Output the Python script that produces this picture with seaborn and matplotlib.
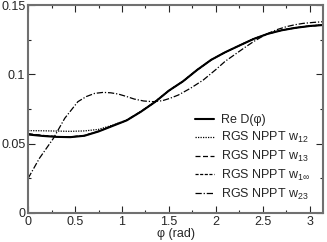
import matplotlib
matplotlib.use('Agg')
import matplotlib.pyplot as plt
import seaborn as sns
import pandas as pd
from matplotlib.ticker import MultipleLocator

# valores
phi_d = [0.0, 0.15, 0.3, 0.45, 0.6, 0.75, 0.9, 1.05, 1.2, 1.35, 1.5, 1.65, 1.8,
         1.95, 2.1, 2.25, 2.4, 2.55, 2.7, 2.85, 3.0, 3.14]
re_d = [0.0566, 0.0556, 0.0549, 0.0547, 0.0557, 0.0588, 0.0628, 0.0668, 0.0730, 0.0800,
        0.0883, 0.0950, 0.1032, 0.1105, 0.1160, 0.1208, 0.1255, 0.1292, 0.1318, 0.1336,
        0.1349, 0.1356]
w12 = [0.0594, 0.0593, 0.0591, 0.0589, 0.0592, 0.0603, 0.0634, 0.0671, 0.0732, 0.0802,
       0.0884, 0.0951, 0.1033, 0.1106, 0.1161, 0.1209, 0.1256, 0.1293, 0.1319, 0.1337,
       0.1350, 0.1357]
w13 = [0.0572, 0.0560, 0.0551, 0.0549, 0.0559, 0.0590, 0.0630, 0.0669, 0.0731, 0.0801,
       0.0883, 0.0950, 0.1032, 0.1105, 0.1160, 0.1208, 0.1255, 0.1292, 0.1318, 0.1336,
       0.1349, 0.1356]
w1inf = [0.0569, 0.0558, 0.0550, 0.0548, 0.0558, 0.0589, 0.0629, 0.0668, 0.0730, 0.0800,
         0.0883, 0.0950, 0.1032, 0.1105, 0.1160, 0.1208, 0.1255, 0.1292, 0.1318, 0.1336,
         0.1349, 0.1356]
phi_23 = [0.0, 0.12, 0.27, 0.39, 0.53, 0.62, 0.71, 0.80, 0.88, 0.96, 1.05, 1.13, 1.23,
          1.33, 1.43, 1.51, 1.6, 1.73, 1.865, 2.0, 2.1, 2.22, 2.31, 2.4, 2.48, 2.57,
          2.66, 2.75, 2.84, 2.93, 3.04, 3.14]
w23 = [0.0250, 0.0394, 0.0539, 0.0683, 0.0803, 0.0840, 0.0863, 0.0870, 0.0867, 0.0858,
       0.0840, 0.0822, 0.0808, 0.0803, 0.0810, 0.0827, 0.0851, 0.0900, 0.0959, 0.1035,
       0.1095, 0.1152, 0.1195, 0.1236, 0.1268, 0.1300, 0.1325, 0.1344, 0.1358, 0.1368,
       0.1375, 0.1380]

labels = ['Re D(φ)', 'RGS NPPT w$_{12}$', 'RGS NPPT w$_{13}$',
          'RGS NPPT w$_{1\\infty}$', 'RGS NPPT w$_{23}$']
xs = [phi_d, phi_d, phi_d, phi_d, phi_23]
series = [re_d, w12, w13, w1inf, w23]
estilos = [('-', 1.5), ((0, (1, 1)), 0.9), ((0, (4, 2)), 0.9),
           ((0, (2.5, 1.2)), 0.9), ((0, (5, 1.5, 1, 1.5)), 0.9)]

sns.set_style('ticks')
plt.rcParams['font.family'] = ['Liberation Sans', 'DejaVu Sans']
plt.rcParams['mathtext.default'] = 'regular'

fig = plt.figure(figsize=(3.27, 2.42), dpi=100)
ax = fig.add_axes([0.086, 0.12, 0.902, 0.859])

for x, y, lab, (ls, lw) in zip(xs, series, labels, estilos):
    df = pd.DataFrame({'phi': x, 'val': y})
    sns.lineplot(data=df, x='phi', y='val', ax=ax, color='black', lw=lw,
                 linestyle=ls, label=lab)

ax.set_xlim(0, 3.1416)
ax.set_ylim(0, 0.15)
ax.set_xticks([0, 0.5, 1, 1.5, 2, 2.5, 3])
ax.set_xticklabels(['0', '0.5', '1', '1.5', '2', '2.5', '3'])
ax.set_yticks([0, 0.05, 0.1, 0.15])
ax.set_yticklabels(['0', '0.05', '0.1', '0.15'])
ax.xaxis.set_minor_locator(MultipleLocator(0.25))
ax.yaxis.set_minor_locator(MultipleLocator(0.025))
ax.tick_params(which='both', direction='in', top=True, right=True, labelsize=9, pad=2)
ax.tick_params(which='major', length=5, width=0.8)
ax.tick_params(which='minor', length=2.5, width=0.8)
for s in ax.spines.values():
    s.set_color('#707070')
    s.set_linewidth(1.5)

ax.set_xlabel('φ (rad)', fontsize=9, labelpad=0)
ax.set_ylabel('')
ax.legend(loc='lower right', bbox_to_anchor=(0.975, 0.03), frameon=False, fontsize=9,
          handlelength=1.5, labelspacing=0.3, handletextpad=0.6, borderaxespad=0)

plt.savefig('out.png', dpi=100)
